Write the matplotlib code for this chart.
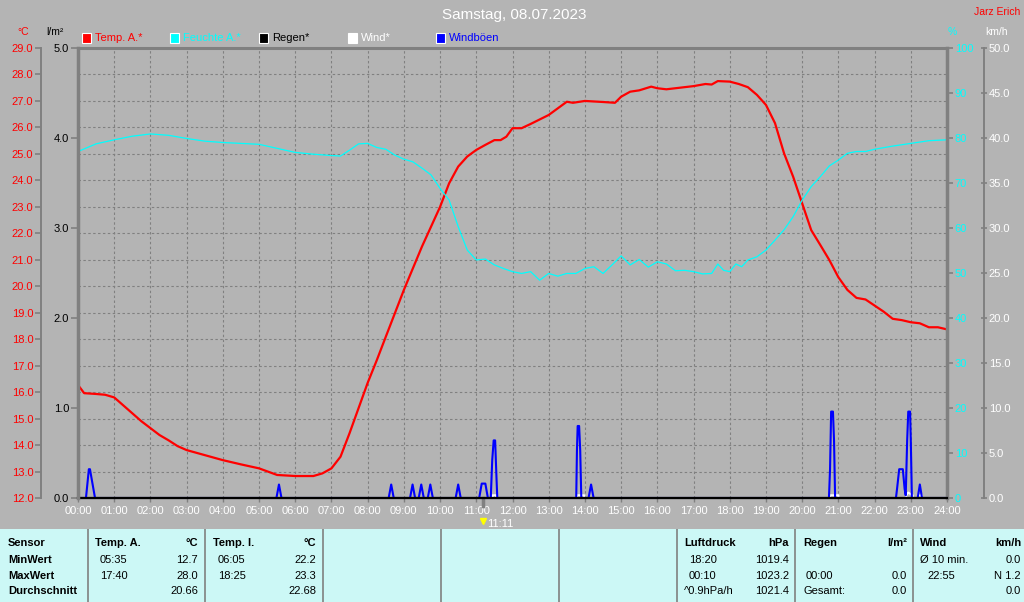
import numpy as np
import matplotlib
matplotlib.use("Agg")
import matplotlib.pyplot as plt

plt.rcParams['font.family'] = ['Liberation Sans', 'DejaVu Sans']

# ---- data ----
title = "Samstag, 08.07.2023"
hours = list(range(0, 25))
hour_labels = ["%02d:00" % h for h in hours]

temp_t = [0, 0.17, 0.5, 0.75, 1.0, 1.25, 1.5, 1.75, 2.0, 2.25, 2.5, 2.75, 3.0, 3.5, 4.0, 4.5,
          5.0, 5.5, 6.0, 6.5, 6.75, 7.0, 7.25, 7.5, 7.75, 8.0, 8.25, 8.5, 9.0, 9.5, 10.0,
          10.25, 10.5, 10.75, 11.0, 11.25, 11.5, 11.67, 11.83, 12.0, 12.25, 12.5, 13.0, 13.25,
          13.5, 13.67, 14.0, 14.5, 14.83, 15.0, 15.25, 15.5, 15.83, 16.0, 16.25, 16.5, 17.0,
          17.33, 17.5, 17.67, 18.0, 18.25, 18.5, 18.75, 19.0, 19.25, 19.5, 19.75, 20.0, 20.25,
          20.5, 20.75, 21.0, 21.25, 21.5, 21.75, 22.0, 22.25, 22.5, 22.75, 23.0, 23.25, 23.5,
          23.75, 24.0]
temp_v = [16.27, 15.96, 15.93, 15.9, 15.8, 15.5, 15.2, 14.9, 14.64, 14.38, 14.18, 13.96, 13.81,
          13.62, 13.43, 13.27, 13.12, 12.87, 12.83, 12.83, 12.93, 13.12, 13.56, 14.45, 15.4,
          16.35, 17.2, 18.09, 19.86, 21.5, 23.0, 23.89, 24.52, 24.9, 25.15, 25.34, 25.52,
          25.52, 25.65, 25.97, 25.97, 26.13, 26.47, 26.72, 26.97, 26.93, 27.0, 26.96, 26.93,
          27.16, 27.35, 27.4, 27.54, 27.48, 27.44, 27.48, 27.56, 27.64, 27.62, 27.75, 27.73,
          27.64, 27.52, 27.23, 26.85, 26.16, 25.02, 24.14, 23.13, 22.12, 21.56, 20.99, 20.34,
          19.86, 19.56, 19.5, 19.27, 19.04, 18.77, 18.72, 18.64, 18.6, 18.45, 18.45, 18.37]

hum_t = [0, 0.5, 1.0, 1.5, 2.0, 2.5, 3.0, 3.5, 4.0, 4.5, 5.0, 5.5, 6.0, 6.5, 7.0, 7.25, 7.5,
         7.75, 8.0, 8.25, 8.5, 8.75, 9.0, 9.25, 9.5, 9.75, 10.0, 10.25, 10.5, 10.75, 11.0,
         11.25, 11.5, 11.75, 12.0, 12.25, 12.5, 12.75, 13.0, 13.25, 13.5, 13.75, 14.0, 14.25,
         14.5, 14.75, 15.0, 15.25, 15.5, 15.75, 16.0, 16.25, 16.5, 16.75, 17.0, 17.25, 17.5,
         17.67, 17.83, 18.0, 18.17, 18.33, 18.5, 18.75, 19.0, 19.25, 19.5, 19.75, 20.0, 20.25,
         20.5, 20.75, 21.0, 21.25, 21.5, 21.75, 22.0, 22.5, 23.0, 23.5, 24.0]
hum_v = [77.0, 78.7, 79.6, 80.4, 80.9, 80.6, 79.9, 79.3, 79.0, 78.8, 78.6, 77.7, 76.8, 76.4,
         76.1, 76.0, 77.3, 78.7, 78.8, 77.9, 77.5, 76.2, 75.3, 74.7, 73.3, 71.8, 68.8, 66.2,
         60.3, 55.1, 52.9, 53.1, 51.8, 51.0, 50.3, 49.9, 50.3, 48.4, 49.9, 49.3, 49.9, 49.9,
         51.0, 51.4, 49.9, 51.8, 53.8, 51.8, 53.0, 51.3, 52.5, 52.0, 50.5, 50.6, 50.3, 49.8,
         49.9, 52.0, 50.6, 50.3, 52.0, 51.4, 52.9, 53.6, 55.1, 57.3, 59.6, 62.5, 66.2, 69.2,
         71.4, 73.8, 75.1, 76.6, 77.0, 77.0, 77.5, 78.2, 78.8, 79.4, 79.6]

gust_t = [0, 0.22, 0.30, 0.33, 0.47, 5.48, 5.55, 5.62, 8.58, 8.65, 8.72, 9.17, 9.24, 9.31,
          9.41, 9.48, 9.55, 9.66, 9.73, 9.80, 10.43, 10.50, 10.57, 11.08, 11.15, 11.25, 11.32,
          11.40, 11.44, 11.48, 11.52, 11.56, 11.58, 13.76, 13.78, 13.80, 13.84, 13.87, 13.90,
          14.10, 14.17, 14.24, 20.74, 20.77, 20.80, 20.85, 20.88, 20.91, 22.59, 22.62, 22.68,
          22.78, 22.83, 22.86, 22.90, 22.93, 22.98, 23.0, 23.03, 23.19, 23.25, 23.31, 24.0]
gust_v = [0, 0, 3.2, 3.2, 0, 0, 1.5, 0, 0, 1.5, 0, 0, 1.5, 0, 0, 1.5, 0, 0, 1.5, 0, 0, 1.5, 0,
          0, 1.6, 1.6, 0, 0, 4.2, 6.4, 6.4, 2.0, 0, 0, 5.3, 8.0, 8.0, 5.3, 0, 0, 1.5, 0, 0, 3.2,
          9.6, 9.6, 6.4, 0, 0, 1.0, 3.2, 3.2, 1.0, 0.3, 6.4, 9.6, 9.6, 6.4, 0, 0, 1.5, 0, 0]

wind_t = [0, 11.45, 11.45, 11.55, 11.55, 13.78, 13.78, 13.98, 13.98, 20.77, 20.77, 21.0, 21.0,
          22.87, 22.87, 22.93, 23.05, 23.05, 23.2, 23.2, 23.3, 23.3, 24.0]
wind_v = [0, 0, 0.3, 0.3, 0, 0, 0.3, 0.3, 0, 0, 0.3, 0.3, 0, 0, 0.3, 0.6, 0.3, 0, 0, 0.3, 0.3,
          0, 0]

rain_t = [0, 24]
rain_v = [0.0, 0.0]

marker_label = "11:11"

legend_items = [("Temp. A.*", "#ff0000"), ("Feuchte A.*", "#00ffff"), ("Regen*", "#000000"),
                ("Wind*", "#ffffff"), ("Windböen", "#0000ff")]

# bottom table
table_cols = [
    (8, None, ["Sensor", "MinWert", "MaxWert", "Durchschnitt"], None),
    (95, 198, ["Temp. A.", "05:35", "17:40", ""], ["°C", "12.7", "28.0", "20.66"]),
    (213, 316, ["Temp. I.", "06:05", "18:25", ""], ["°C", "22.2", "23.3", "22.68"]),
    (684, 789, ["Luftdruck", "18:20", "00:10", "^0.9hPa/h"], ["hPa", "1019.4", "1023.2", "1021.4"]),
    (803, 907, ["Regen", "", "00:00", "Gesamt:"], ["l/m²", "", "0.0", "0.0"]),
    (920, 1021, ["Wind", "Ø 10 min.", "22:55", ""], ["km/h", "0.0", "N 1.2", "0.0"]),
]
table_seps = [88, 205, 323, 441, 559, 677, 795, 913]

BG = "#b4b4b4"
GRID = "#808080"
W, H = 1024, 602
PX = 72 / 100.0

fig = plt.figure(figsize=(W / 100, H / 100), dpi=100, facecolor=BG)


def fx(x):
    return x / W


def fy(y):
    return 1 - y / H


L, R, T, B = 78, 947, 48, 498
ax = fig.add_axes([fx(L), fy(B), (R - L) / W, (B - T) / H], facecolor=BG)
ax_h = ax.twinx()
ax_w = ax.twinx()
ax_r = ax.twinx()

# temperature axis (left, outer)
ax.set_xlim(0, 24)
ax.set_ylim(12, 29)
ax.set_yticks(np.arange(12, 30, 1))
ax.set_yticklabels(["%.1f" % v for v in np.arange(12, 30, 1)])
ax.set_xticks(hours)
ax.set_xticklabels(hour_labels)
ax.grid(True, color=GRID, linestyle=(0, (2.2, 2.2)), linewidth=0.8)
ax.spines['left'].set_position(('outward', 37 * PX))
ax.spines['left'].set_color(GRID)
ax.spines['left'].set_linewidth(1.4)
ax.spines['right'].set_visible(False)
ax.spines['top'].set_color(GRID)
ax.spines['top'].set_linewidth(2.2)
ax.spines['bottom'].set_color('black')
ax.spines['bottom'].set_linewidth(1.5)
ax.tick_params(axis='y', colors=GRID, labelcolor='#ff0000', length=4.5, width=1.2,
               labelsize=8, pad=1)
ax.tick_params(axis='x', colors=GRID, labelcolor='white', length=3, width=1,
               labelsize=8, pad=3)
ax.plot(temp_t, temp_v, color='#ff0000', lw=1.6, zorder=3)

# humidity axis (right, inner)
ax_h.set_ylim(0, 100)
ax_h.set_yticks(np.arange(0, 101, 10))
for s in ['left', 'top', 'bottom']:
    ax_h.spines[s].set_visible(False)
ax_h.spines['right'].set_color(GRID)
ax_h.spines['right'].set_linewidth(2.5)
ax_h.tick_params(axis='y', colors=GRID, labelcolor='#00ffff', length=4, width=1.2,
                 labelsize=8, pad=1.5)
ax_h.plot(hum_t, hum_v, color='#00ffff', lw=0.9)

# wind axis (right, outer)
ax_w.set_ylim(0, 50)
ax_w.set_yticks(np.arange(0, 51, 5))
ax_w.set_yticklabels(["%.1f" % v for v in np.arange(0, 51, 5)])
for s in ['left', 'top', 'bottom']:
    ax_w.spines[s].set_visible(False)
ax_w.spines['right'].set_position(('outward', 37 * PX))
ax_w.spines['right'].set_color(GRID)
ax_w.spines['right'].set_linewidth(1.4)
ax_w.tick_params(axis='y', colors=GRID, labelcolor='white', length=4, width=1.2,
                 labelsize=8, pad=1.5, direction='inout')
ax_w.plot(wind_t, wind_v, color='white', lw=1.5)
ax_w.plot(gust_t, gust_v, color='#0000ff', lw=1.5)

# rain axis (left, at plot edge)
ax_r.set_ylim(0, 5)
ax_r.set_yticks(np.arange(0, 5.1, 1))
ax_r.set_yticklabels(["%.1f" % v for v in np.arange(0, 5.1, 1)])
ax_r.yaxis.tick_left()
for s in ['right', 'top', 'bottom']:
    ax_r.spines[s].set_visible(False)
ax_r.spines['left'].set_visible(True)
ax_r.spines['left'].set_color(GRID)
ax_r.spines['left'].set_linewidth(2.5)
ax_r.tick_params(axis='y', colors=GRID, labelcolor='black', length=5, width=1.2,
                 labelsize=8, pad=1.5)
ax_r.plot(rain_t, rain_v, color='black', lw=1.6, clip_on=False)

# current time marker
hh, mm = marker_label.split(":")
t_mark = int(hh) + int(mm) / 60
ax.plot([t_mark, t_mark], [0, -0.018], color=GRID, lw=2.5, clip_on=False,
        transform=ax.get_xaxis_transform())
ax.plot([t_mark], [-0.052], marker='v', color='#ffff00', markersize=5, clip_on=False,
        transform=ax.get_xaxis_transform())
ax.text(t_mark + 0.12, -0.058, marker_label, color='white', fontsize=8, va='center',
        ha='left', transform=ax.get_xaxis_transform(), clip_on=False)

# header texts
fig.text(fx(514), fy(15), title, color='white', fontsize=11, ha='center', va='center')
fig.text(fx(1020), fy(12), "Jarz Erich", color='#ff0000', fontsize=7.5, ha='right', va='center')
fig.text(fx(23), fy(32), "°C", color='#ff0000', fontsize=7.5, ha='center', va='center')
fig.text(fx(55), fy(32), "l/m²", color='black', fontsize=7.5, ha='center', va='center')
fig.text(fx(952), fy(32), "%", color='#00ffff', fontsize=7.5, ha='center', va='center')
fig.text(fx(997), fy(32), "km/h", color='white', fontsize=7.5, ha='center', va='center')

# legend row
lx = [82, 170, 259, 348, 436]
for (lab, col), x0 in zip(legend_items, lx):
    fig.patches.append(plt.Rectangle((fx(x0), fy(42.5)), 9 / W, 9 / H, transform=fig.transFigure,
                                     facecolor=col, edgecolor='white', lw=0.8))
    fig.text(fx(x0 + 13), fy(38), lab, color=col, fontsize=8, ha='left', va='center')

# bottom table panel
tb = fig.add_axes([0, 0, 1, (H - 529) / H], facecolor='#ccf8f6')
tb.set_xlim(0, W)
tb.set_ylim(H, 529)
tb.set_axis_off()
tb.add_patch(plt.Rectangle((0, 529), W, H - 529, facecolor='#ccf8f6', edgecolor='none'))
for xs in table_seps:
    tb.plot([xs, xs], [529, H], color=GRID, lw=1.2)
rows_y = [543.5, 560, 576, 591.5]
for x_left, x_right, left_txt, right_txt in table_cols:
    for i, y in enumerate(rows_y):
        bold = (i == 0) or x_right is None
        dx = 0 if (i == 0 or x_left in (8, 803, 920)) else 5
        if x_left == 684 and i == 3:
            dx = 0
        if x_left == 920 and i == 2:
            dx = 7
        if x_left == 803 and i == 2:
            dx = 3
        tb.text(x_left + dx, y, left_txt[i], fontsize=8, ha='left', va='center',
                fontweight='bold' if bold else 'normal', color='black')
        if right_txt is not None:
            tb.text(x_right, y, right_txt[i], fontsize=8, ha='right', va='center',
                    fontweight='bold' if i == 0 else 'normal', color='black')

fig.savefig("out.png", dpi=100, facecolor=BG)
